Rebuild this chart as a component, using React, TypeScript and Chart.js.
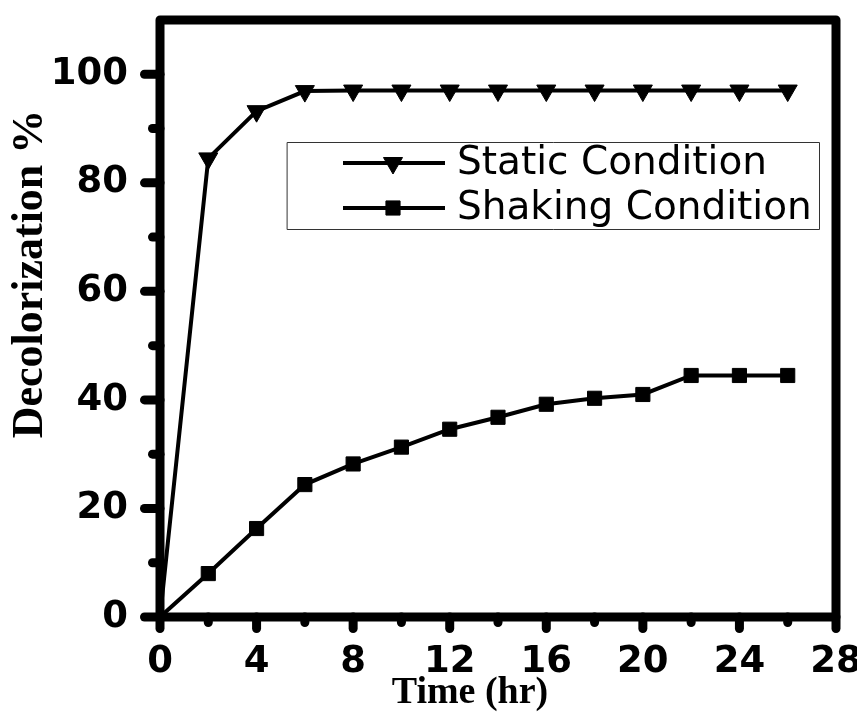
import React, { useEffect, useRef } from 'react';
import { Chart, registerables } from 'chart.js';
import { drawPoint } from 'chart.js/helpers';

Chart.register(...registerables);

const timeHours = [0, 2, 4, 6, 8, 10, 12, 14, 16, 18, 20, 22, 24, 26];
const staticCondition = [0, 84.5, 93.2, 96.9, 97, 97, 97, 97, 97, 97, 97, 97, 97, 97];
const shakingCondition = [0, 8.0, 16.3, 24.4, 28.2, 31.3, 34.6, 36.8, 39.2, 40.3, 41.0, 44.5, 44.5, 44.5];
const seriesLabels = ['Static Condition', 'Shaking Condition'];
const xMajorTicks = [0, 4, 8, 12, 16, 20, 24, 28];
const xMinorTicks = [2, 6, 10, 14, 18, 22, 26];
const yMajorTicks = [0, 20, 40, 60, 80, 100];
const yMinorTicks = [10, 30, 50, 70, 90];
const xTitle = 'Time (hr)';
const yTitle = 'Decolorization %';

const W = 849;
const H = 704;

const decorPlugin = {
  id: 'decor',
  afterDraw(chart: any) {
    const { ctx, chartArea, scales } = chart;
    const xs = scales.x;
    const ys = scales.y;
    const { left, right, top, bottom } = chartArea;
    ctx.save();
    ctx.strokeStyle = '#000';
    ctx.lineCap = 'round';
    ctx.lineJoin = 'round';
    ctx.lineWidth = 9;
    const seg = (x1: number, y1: number, x2: number, y2: number) => {
      ctx.beginPath();
      ctx.moveTo(x1, y1);
      ctx.lineTo(x2, y2);
      ctx.stroke();
    };
    yMajorTicks.forEach((v) => {
      const p = ys.getPixelForValue(v);
      seg(left - 15.5, p, left, p);
    });
    yMinorTicks.forEach((v) => {
      const p = ys.getPixelForValue(v);
      seg(left - 7.5, p, left, p);
    });
    xMajorTicks.forEach((v) => {
      const p = xs.getPixelForValue(v);
      seg(p, bottom, p, bottom + 11.5);
    });
    xMinorTicks.forEach((v) => {
      const p = xs.getPixelForValue(v);
      seg(p, bottom, p, bottom + 5.5);
    });
    ctx.beginPath();
    ctx.rect(left, top, right - left, bottom - top);
    ctx.stroke();

    // legend
    const bx = 279, by = 134, bw = 532, bh = 87;
    ctx.lineWidth = 1;
    ctx.strokeStyle = '#333';
    ctx.strokeRect(bx + 0.5, by + 0.5, bw, bh);
    const rows = [
      { y: 155, style: 'triangle', rot: 180, r: 11 },
      { y: 200, style: 'rect', rot: 0, r: 10 },
    ];
    rows.forEach((row, i) => {
      ctx.strokeStyle = '#000';
      ctx.fillStyle = '#000';
      ctx.lineWidth = 4;
      ctx.lineCap = 'butt';
      seg(335, row.y, 437, row.y);
      ctx.lineWidth = 1;
      drawPoint(ctx, { pointStyle: row.style, radius: row.r, rotation: row.rot, borderWidth: 1 } as any, 385, row.y);
      ctx.font = '39px "DejaVu Sans"';
      ctx.textAlign = 'left';
      ctx.textBaseline = 'middle';
      ctx.fillText(seriesLabels[i], 449, row.y + 1);
    });

    // axis titles
    ctx.fillStyle = '#000';
    ctx.font = 'bold 44px "Liberation Serif"';
    ctx.textAlign = 'center';
    ctx.textBaseline = 'middle';
    ctx.save();
    ctx.translate(23, 266);
    ctx.rotate(-Math.PI / 2);
    ctx.fillText(yTitle, 0, 0);
    ctx.restore();
    ctx.font = 'bold 38px "Liberation Serif"';
    ctx.textBaseline = 'alphabetic';
    ctx.fillText(xTitle, 462, 695);
    ctx.restore();
  },
};

export default function App() {
  const ref = useRef<HTMLCanvasElement | null>(null);
  useEffect(() => {
    if (!ref.current) return;
    const tickFont = { family: '"DejaVu Sans"', size: 37, weight: 'bold' as const };
    const chart = new Chart(ref.current, {
      type: 'line',
      data: {
        datasets: [
          {
            label: seriesLabels[0],
            data: timeHours.map((t, i) => ({ x: t, y: staticCondition[i] })),
            borderColor: '#000',
            backgroundColor: '#000',
            borderWidth: 4,
            pointStyle: 'triangle',
            pointRotation: 180,
            pointRadius: (c: any) => (c.dataIndex === 0 ? 0 : 11),
            pointBorderWidth: 1,
            pointBorderColor: '#000',
            pointBackgroundColor: '#000',
            tension: 0,
          } as any,
          {
            label: seriesLabels[1],
            data: timeHours.map((t, i) => ({ x: t, y: shakingCondition[i] })),
            borderColor: '#000',
            backgroundColor: '#000',
            borderWidth: 4,
            pointStyle: 'rect',
            pointRadius: (c: any) => (c.dataIndex === 0 ? 0 : 10),
            pointBorderWidth: 1,
            pointBorderColor: '#000',
            pointBackgroundColor: '#000',
            tension: 0,
          } as any,
        ],
      },
      options: {
        animation: false,
        responsive: false,
        maintainAspectRatio: false,
        devicePixelRatio: 1,
        layout: { padding: { top: 8, right: 21, left: 0, bottom: 0 } },
        plugins: { legend: { display: false }, tooltip: { enabled: false } },
        scales: {
          x: {
            type: 'linear',
            min: 0,
            max: 28,
            ticks: { stepSize: 4, color: '#000', font: tickFont, padding: 23, maxRotation: 0, autoSkip: false },
            grid: { display: false, drawTicks: false },
            border: { display: false },
            afterFit: (s: any) => {
              s.height = H - 609;
              s.paddingLeft = 0;
              s.paddingRight = 0;
            },
          },
          y: {
            type: 'linear',
            min: 0,
            max: 110,
            ticks: { stepSize: 20, includeBounds: false, color: '#000', font: tickFont, padding: 32 },
            grid: { display: false, drawTicks: false },
            border: { display: false },
            afterFit: (s: any) => {
              s.width = 152;
              s.paddingTop = 0;
              s.paddingBottom = 0;
            },
          },
        },
      } as any,
      plugins: [decorPlugin],
    });
    return () => chart.destroy();
  }, []);
  return (
    <div style={{ width: W, height: H }}>
      <canvas ref={ref} width={W} height={H} style={{ display: 'block', width: W, height: H }} />
    </div>
  );
}
